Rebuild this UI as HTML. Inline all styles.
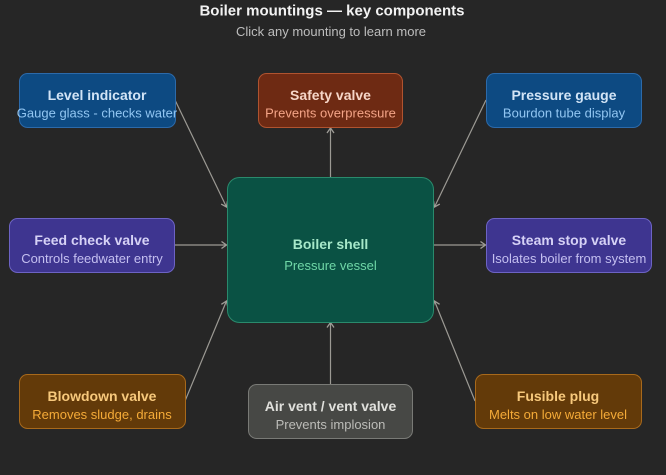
<!DOCTYPE html>
<html><head><meta charset="utf-8">
<style>
html,body{margin:0;padding:0;background:#262626;}
svg{display:block;}
text{font-family:"Liberation Sans",sans-serif;text-anchor:middle;}
.t{font-size:14px;font-weight:bold;}
.s{font-size:13px;}
</style></head>
<body>
<svg width="666" height="475" viewBox="0 0 666 475" xmlns="http://www.w3.org/2000/svg">
<defs>
<marker id="a" markerUnits="userSpaceOnUse" markerWidth="12" markerHeight="12" refX="0" refY="0" viewBox="-6 -6 12 12" orient="auto">
<path d="M-5,-3.5 L0,0 L-5,3.5" fill="none" stroke="#a09e98" stroke-width="1.3"/>
</marker>
</defs>
<rect width="666" height="475" fill="#262626"/>
<text x="332" y="15.5" font-size="15" font-weight="bold" fill="#f2f2f2">Boiler mountings — key components</text>
<text x="331" y="36" font-size="13" fill="#bdbdbd">Click any mounting to learn more</text>

<g stroke="#9c9a94" stroke-width="1.2" fill="none" marker-end="url(#a)">
<line x1="175" y1="100" x2="226.5" y2="207"/>
<line x1="330.5" y1="177" x2="330.5" y2="128"/>
<line x1="486" y1="100" x2="434.5" y2="207"/>
<line x1="175" y1="245" x2="226.5" y2="245"/>
<line x1="434" y1="245" x2="485.5" y2="245"/>
<line x1="185" y1="401" x2="226.5" y2="301"/>
<line x1="330.5" y1="384" x2="330.5" y2="322.5"/>
<line x1="475" y1="401" x2="434.5" y2="301"/>
</g>

<!-- Level indicator -->
<rect x="19.5" y="73.5" width="156" height="54" rx="8" fill="#0d4a82" stroke="#2c6aaa"/>
<text class="t" x="97" y="100" fill="#d2e4f6">Level indicator</text>
<text class="s" x="97" y="117.5" fill="#92c6f2">Gauge glass - checks water</text>

<!-- Safety valve -->
<rect x="258.5" y="73.5" width="144" height="54" rx="8" fill="#6e2a13" stroke="#b0532f"/>
<text class="t" x="330.5" y="100" fill="#f6d6c8">Safety valve</text>
<text class="s" x="330.5" y="117.5" fill="#f4a487">Prevents overpressure</text>

<!-- Pressure gauge -->
<rect x="486.5" y="73.5" width="155" height="54" rx="8" fill="#0d4a82" stroke="#2c6aaa"/>
<text class="t" x="564" y="100" fill="#d2e4f6">Pressure gauge</text>
<text class="s" x="564" y="117.5" fill="#92c6f2">Bourdon tube display</text>

<!-- Feed check valve -->
<rect x="9.5" y="218.5" width="165" height="54" rx="8" fill="#3e3590" stroke="#6d63c4"/>
<text class="t" x="92" y="245" fill="#d6d2f6">Feed check valve</text>
<text class="s" x="92" y="263" fill="#c4bff0">Controls feedwater entry</text>

<!-- Boiler shell -->
<rect x="227.5" y="177.5" width="206" height="145" rx="12" fill="#0a5244" stroke="#2a8a6c"/>
<text class="t" x="330.5" y="249" fill="#a6e8c9">Boiler shell</text>
<text class="s" x="330.5" y="270" fill="#6fd7a7">Pressure vessel</text>

<!-- Steam stop valve -->
<rect x="486.5" y="218.5" width="165" height="54" rx="8" fill="#3e3590" stroke="#6d63c4"/>
<text class="t" x="569" y="245" fill="#d6d2f6">Steam stop valve</text>
<text class="s" x="569" y="263" fill="#c4bff0">Isolates boiler from system</text>

<!-- Blowdown valve -->
<rect x="19.5" y="374.5" width="166" height="54" rx="8" fill="#633a09" stroke="#a8691b"/>
<text class="t" x="102" y="401" fill="#f8c97c">Blowdown valve</text>
<text class="s" x="102" y="419" fill="#f5ab38">Removes sludge, drains</text>

<!-- Air vent -->
<rect x="248.5" y="384.5" width="164" height="54" rx="8" fill="#474845" stroke="#797a76"/>
<text class="t" x="330.5" y="411" fill="#e0e0dc">Air vent / vent valve</text>
<text class="s" x="330.5" y="429" fill="#bcbcb8">Prevents implosion</text>

<!-- Fusible plug -->
<rect x="475.5" y="374.5" width="166" height="54" rx="8" fill="#633a09" stroke="#a8691b"/>
<text class="t" x="558" y="401" fill="#f8c97c">Fusible plug</text>
<text class="s" x="558" y="419" fill="#f5ab38">Melts on low water level</text>
</svg>
</body></html>
